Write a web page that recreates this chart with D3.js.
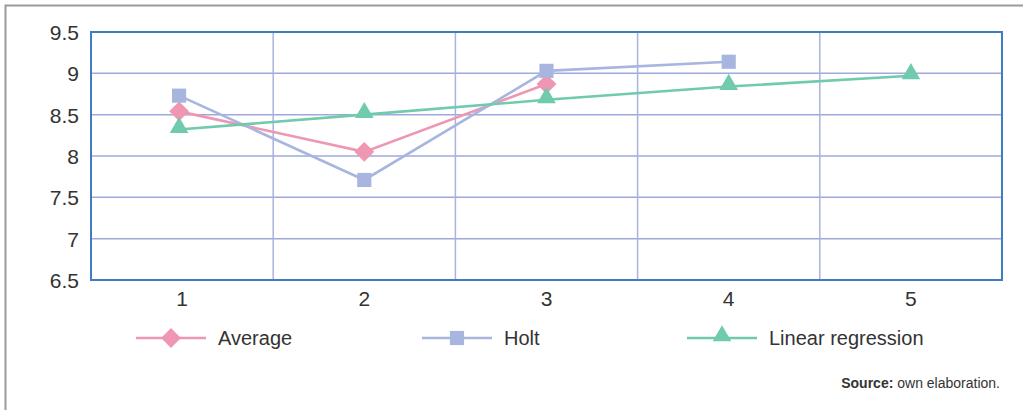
<!DOCTYPE html>
<html><head><meta charset="utf-8">
<script src="https://cdn.jsdelivr.net/npm/d3@7"></script>
<style>
html,body{margin:0;padding:0;background:#fff;}
svg text{font-family:"Liberation Sans",Arial,sans-serif;}
</style></head>
<body><svg id="c" width="1023" height="410"></svg>
<script>
const categories = ["1","2","3","4","5"];
const yTicks = [6.5,7,7.5,8,8.5,9,9.5];
const average = [8.54, 8.05, 8.87];
const holt = [8.73, 7.71, 9.03, 9.14];
const linreg = [8.32, 8.50, 8.68, 8.84, 8.97];
const seriesNames = ["Average","Holt","Linear regression"];
const colors = ["#ef96b2","#a7b5df","#6fcaae"];

const svg = d3.select("#c");
// outer frame
svg.append("path").attr("d","M5.5,410 V5.5 H1023").attr("fill","none").attr("stroke","#9a9a9a").attr("stroke-width",2);

const L=91, R=1002, T=32, B=280;
const x = d3.scaleBand().domain(categories).range([L,R]);
const y = d3.scaleLinear().domain([6.5,9.5]).range([B,T]);

// grid
const g = svg.append("g");
g.selectAll("line.h").data(yTicks.slice(1,-1)).join("line")
 .attr("x1",L).attr("x2",R).attr("y1",d=>y(d)).attr("y2",d=>y(d))
 .attr("stroke","#9eaadb").attr("stroke-width",1.5);
g.selectAll("line.v").data(categories.slice(1)).join("line")
 .attr("x1",d=>x(d)).attr("x2",d=>x(d)).attr("y1",T).attr("y2",B)
 .attr("stroke","#a9b3de").attr("stroke-width",1.5);
svg.append("rect").attr("x",L).attr("y",T).attr("width",R-L).attr("height",B-T)
 .attr("fill","none").attr("stroke","#3f7cc0").attr("stroke-width",2);

// axes
const yAxis = svg.append("g").attr("transform",`translate(${L},0)`)
 .call(d3.axisLeft(y).tickValues(yTicks).tickSize(0).tickPadding(12).tickFormat(d3.format("")));
yAxis.select(".domain").remove();
yAxis.selectAll("text").attr("font-size",21).attr("fill","#333").attr("dy","0.35em");
const xAxis = svg.append("g").attr("transform",`translate(0,${B})`)
 .call(d3.axisBottom(x).tickSize(0).tickPadding(11));
xAxis.select(".domain").remove();
xAxis.selectAll("text").attr("font-size",21).attr("fill","#333");

const data = [average, holt, linreg];
const symbols = [d3.symbolDiamond2, d3.symbolSquare, d3.symbolTriangle];
const sizes = [250, 200, 150];
const line = d3.line().x((d,i)=>x(categories[i])+x.bandwidth()/2 - (i===0?3:0)).y(d=>y(d));

data.forEach((arr,si)=>{
  svg.append("path").datum(arr).attr("d",line).attr("fill","none")
    .attr("stroke",colors[si]).attr("stroke-width",2.6);
});
data.forEach((arr,si)=>{
  svg.selectAll(null).data(arr).join("path")
    .attr("transform",(d,i)=>`translate(${x(categories[i])+x.bandwidth()/2-(i===0?3:0)},${y(d)+(si===2?-2:0)})`)
    .attr("d",d3.symbol().type(symbols[si]).size(sizes[si]))
    .attr("fill",colors[si]);
});

// legend
const legX = [136, 422, 687];
const ly = 338;
seriesNames.forEach((n,i)=>{
  const lg = svg.append("g");
  lg.append("line").attr("x1",legX[i]).attr("x2",legX[i]+70).attr("y1",ly).attr("y2",ly)
    .attr("stroke",colors[i]).attr("stroke-width",2.6);
  lg.append("path").attr("transform",`translate(${legX[i]+35},${ly+(i===2?-2:0)})`)
    .attr("d",d3.symbol().type(symbols[i]).size(sizes[i])).attr("fill",colors[i]);
  lg.append("text").attr("x",legX[i]+82).attr("y",ly).attr("dy","0.35em")
    .attr("font-size",20).attr("fill","#333").text(n);
});

// source
const src = svg.append("text").attr("x",1000).attr("y",388).attr("text-anchor","end")
  .attr("font-size",14).attr("fill","#333");
src.append("tspan").attr("font-weight","bold").text("Source:");
src.append("tspan").text(" own elaboration.");
</script></body></html>
